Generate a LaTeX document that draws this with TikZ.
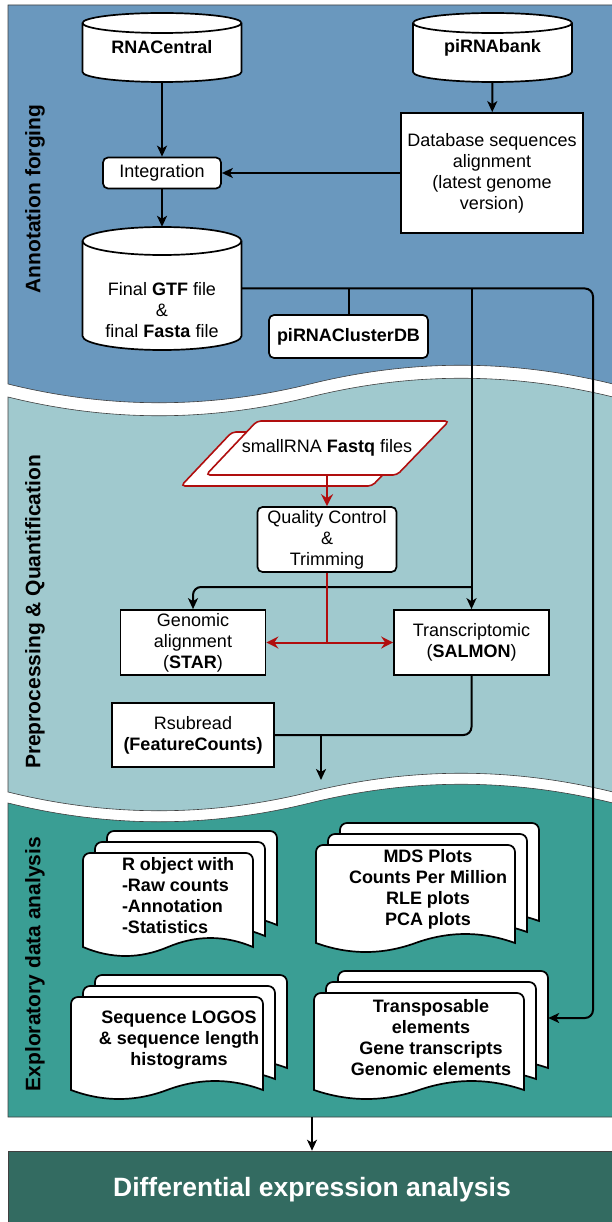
\documentclass[tikz,border=0pt]{standalone}
\usepackage{fontspec}
\setmainfont{Liberation Sans}
\usetikzlibrary{arrows.meta}
\definecolor{annotblue}{HTML}{6A98BE}
\definecolor{prepteal}{HTML}{A0C9CE}
\definecolor{edateal}{HTML}{3A9E94}
\definecolor{diffgreen}{HTML}{336B61}
\definecolor{fastqred}{HTML}{B00E0E}
\newcommand{\boxfont}{\fontsize{18}{21}\selectfont}
% cylinder: centre x, top y, half width, height, end radius
\newcommand{\dbcyl}[5]{%
  \draw[cylline] (#1-#3,#2+#5) -- (#1-#3,#2+#4-#5)
    arc[start angle=180,end angle=360,x radius=#3pt,y radius=#5pt]
    -- (#1+#3,#2+#5)
    arc[start angle=0,end angle=180,x radius=#3pt,y radius=#5pt] -- cycle;
  \draw[cylline] (#1-#3,#2+#5)
    arc[start angle=180,end angle=360,x radius=#3pt,y radius=#5pt];}
% one sheet: left x, top y, width, height down to the wave
\newcommand{\docsheet}[4]{%
  \draw[docline] (#1,#2+#4) [rounded corners=7pt] -- (#1,#2) -- (#1+#3,#2)
    -- (#1+#3,#2+20) [sharp corners] -- (#1+#3,#2+#4)
    .. controls (#1+#3*5/6,#2+#4-12) and (#1+#3*2/3,#2+#4-12) .. (#1+#3/2,#2+#4)
    .. controls (#1+#3/3,#2+#4+12) and (#1+#3/6,#2+#4+12) .. (#1,#2+#4) -- cycle;}
\newcommand{\multidoc}[4]{%
  \foreach \k in {2,1,0} {\docsheet{#1+12*\k}{#2-11*\k}{#3}{#4}}}
\begin{document}
\begin{tikzpicture}[x=1pt,y=-1pt,>={Stealth[length=11pt,width=10pt,inset=3pt]},
  panel/.style={draw=black!75,line width=0.6pt},
  cylline/.style={draw=black,line width=1.7pt,fill=white},
  docline/.style={draw=black,line width=1.7pt,fill=white},
  flowbox/.style={draw,line width=1.7pt,fill=white,font=\boxfont,align=center,inner sep=2pt},
  roundbox/.style={flowbox,rounded corners=5pt},
  txt/.style={font=\boxfont,align=center,inner sep=0pt},
  doctext/.style={font=\boxfont\bfseries,align=center,inner sep=0pt},
  lane/.style={font=\fontsize{21}{25}\selectfont\bfseries,rotate=90},
  link/.style={line width=2pt},
  redlink/.style={line width=2pt,draw=fastqred,>={Stealth[length=12pt,width=12pt,inset=4pt]}},
  fastqsheet/.style={draw=fastqred,line width=1.6pt,fill=white,rounded corners=4pt}]
\useasboundingbox (0,0) rectangle (611,1222);
\fill[white] (0,0) rectangle (611,1222);

% panels
\draw[panel,fill=annotblue] (8,5) -- (613,5) -- (613,384)
  .. controls (511,359) and (411,359) .. (310,384)
  .. controls (209,409) and (109,409) .. (8,384) -- cycle;
\draw[panel,fill=prepteal] (8,397) .. controls (109,422) and (209,422) .. (310,397)
  .. controls (411,372) and (511,372) .. (613,397) -- (613,792)
  .. controls (511,767) and (411,767) .. (310,792)
  .. controls (209,817) and (109,817) .. (8,792) -- cycle;
\draw[panel,fill=edateal] (8,803) .. controls (109,828) and (209,828) .. (310,803)
  .. controls (411,778) and (511,778) .. (613,803) -- (613,1117) -- (8,1117) -- cycle;
\node[panel,fill=diffgreen,text=white,font=\fontsize{26.5}{30}\selectfont\bfseries,
  minimum width=608,minimum height=78,inner sep=0pt] (diffexp) at (312,1190)
  {Differential expression analysis};

\node[lane] (annotlane) at (35,199) {Annotation forging};
\node[lane] (preplane) at (35,612) {Preprocessing \& Quantification};
\node[lane] (edalane) at (35,964) {Exploratory data analysis};

% annotation forging
\dbcyl{162}{13}{79.5}{69}{10}
\node[txt,font=\boxfont\bfseries,minimum width=159,minimum height=69] (rnac) at (162,47.5) {RNACentral};
\dbcyl{492.5}{13}{79.5}{69}{10}
\node[txt,font=\boxfont\bfseries,minimum width=159,minimum height=69] (pirna) at (492.5,47.5) {piRNAbank};
\node[flowbox,minimum width=182,minimum height=120] (dbalign) at (492,173)
  {Database sequences\\alignment\\(latest genome\\version)};
\node[roundbox,minimum width=118,minimum height=31] (integ) at (162,173) {Integration};
\dbcyl{162}{227}{79.5}{123}{14}
\node[txt,minimum width=159,minimum height=123] (final) at (162,288.5) {};
\node[txt] (finaltxt) at (162,310.5) {Final \textbf{GTF} file\\\&\\final \textbf{Fasta} file};
\node[roundbox,font=\boxfont\bfseries,minimum width=159,minimum height=43] (cluster) at (348.5,336.5) {piRNAClusterDB};

% preprocessing
\foreach \dx/\dy in {-25/11,0/0}
  \draw[fastqsheet] (257+\dx,421+\dy) -- (449+\dx,421+\dy) -- (397+\dx,475+\dy) -- (206+\dx,475+\dy) -- cycle;
\node[txt,minimum height=54] (fastq) at (327,448) {smallRNA \textbf{Fastq} files};
\node[roundbox,minimum width=139,minimum height=65] (qc) at (327,539.5) {Quality Control\\\&\\Trimming};
\node[flowbox,minimum width=145,minimum height=65] (star) at (193,642.5) {Genomic\\alignment\\(\textbf{STAR})};
\node[flowbox,minimum width=155,minimum height=65] (salmon) at (471.5,642.5) {Transcriptomic\\(\textbf{SALMON})};
\node[flowbox,minimum width=162,minimum height=64] (rsub) at (193,735) {Rsubread\\\textbf{(FeatureCounts)}};

% exploratory analysis
\multidoc{83}{853}{170}{94}
\node[doctext,align=left] (robj) at (178,896) {R object with\\-Raw counts\\-Annotation\\-Statistics};
\multidoc{316}{845}{199}{98}
\node[doctext] (plots) at (428,889) {MDS Plots\\Counts Per Million\\RLE plots\\PCA plots};
\multidoc{71}{997}{192}{93}
\node[doctext] (logos) at (179,1040) {Sequence LOGOS\\\& sequence length\\histograms};
\multidoc{314}{993}{210}{97}
\node[doctext,minimum width=234] (transp) at (431,1038) {Transposable\\elements\\Gene transcripts\\Genomic elements};

% connectors
\draw[link,->] (rnac) -- (integ);
\draw[link,->] (pirna) -- (dbalign);
\draw[link,->] (dbalign.west) -- (integ.east);
\draw[link,->] (integ) -- (final);
\coordinate (rail) at (593,1018);
\draw[link,->,rounded corners=8pt] (final.east) -| (rail) -- (transp.east |- rail);
\draw[link] (cluster) -- (cluster |- final.east);
\draw[link,->] (salmon |- final.east) -- (salmon);
\coordinate (fork) at (471.5,587);
\draw[link,->,rounded corners=8pt] (fork) -| (star.north);
\draw[redlink,->] (fastq) -- (qc);
\coordinate (qcsplit) at (qc.south |- star.east);
\draw[redlink] (qc) -- (qcsplit);
\draw[redlink,->] (qcsplit) -- (star);
\draw[redlink,->] (qcsplit) -- (salmon);
\draw[link,rounded corners=8pt] (salmon) |- (rsub);
\coordinate (merge) at (321,735);
\coordinate (mergeout) at (321,780);
\draw[link,->] (merge) -- (mergeout);
\coordinate (edaout) at (312,1117);
\draw[link,->,line width=1.3pt] (edaout) -- (diffexp);
\end{tikzpicture}
\end{document}
